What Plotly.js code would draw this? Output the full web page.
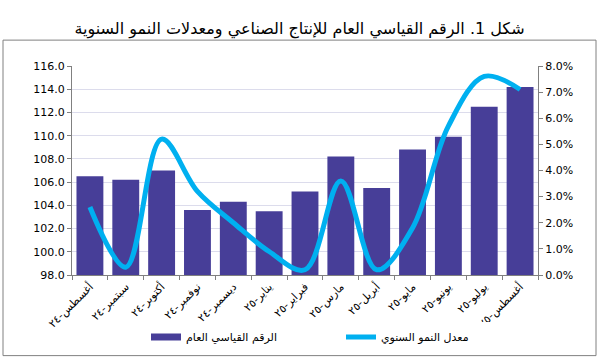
<!DOCTYPE html>
<html>
<head>
<meta charset="utf-8">
<script src="https://cdn.plot.ly/plotly-3.0.1.min.js"></script>
<style>html,body{margin:0;padding:0;background:#fff;}#chart{width:599px;height:362px;}</style>
</head>
<body>
<div id="chart"></div>
<script>
const categories = ["أغسطس-٢٤","سبتمبر-٢٤","أكتوبر-٢٤","نوفمبر-٢٤","ديسمبر-٢٤","يناير-٢٥","فبراير-٢٥","مارس-٢٥","أبريل-٢٥","مايو-٢٥","يونيو-٢٥","يوليو-٢٥","أغسطس-٢٥"];
const indexValues = [106.5, 106.2, 107.0, 103.6, 104.3, 103.5, 105.2, 108.2, 105.5, 108.8, 109.9, 112.5, 114.2];
const growthValues = [0.026, 0.003, 0.052, 0.032, 0.020, 0.009, 0.002, 0.036, 0.002, 0.018, 0.057, 0.076, 0.071];
const seriesNames = ["الرقم القياسي العام", "معدل النمو السنوي"];
const titleText = "شكل 1. الرقم القياسي العام للإنتاج الصناعي ومعدلات النمو السنوية";

const font = "DejaVu Sans, Noto Sans, sans-serif";
const barColor = "#473e98";
const lineColor = "#00b0f0";
const data = [
  {type:"bar", x:categories, y:indexValues, name:seriesNames[0], marker:{color:barColor}, yaxis:"y", hoverinfo:"none", showlegend:false},
  {type:"scatter", mode:"lines", x:[categories[0]], y:[null], name:seriesNames[0], yaxis:"y", line:{color:barColor, width:7}, hoverinfo:"none", showlegend:true},
  {type:"scatter", mode:"lines", x:categories, y:growthValues, name:seriesNames[1], yaxis:"y2",
   line:{color:lineColor, width:5, shape:"spline", smoothing:1}, hoverinfo:"none"}
];
const layout = {
  width:599, height:362,
  margin:{l:72, r:61, t:66, b:86},
  paper_bgcolor:"#fff", plot_bgcolor:"#fff",
  font:{family:font, size:11, color:"#000"},
  title:{text:titleText, font:{family:font, size:16, color:"#000"}, x:0.5, xanchor:"center", y:1-28/362, yanchor:"middle", yref:"container"},
  bargap:0.25,
  showlegend:true,
  legend:{orientation:"h", x:(146-72)/466, xanchor:"left", y:-0.29, yanchor:"middle", font:{family:font, size:11}, traceorder:"normal", entrywidth:150, entrywidthmode:"pixels"},
  xaxis:{type:"category", tickangle:-45, showline:true, linecolor:"#808080", linewidth:1, ticks:"outside", tickson:"boundaries", ticklen:4, tickcolor:"#808080", showgrid:false, tickfont:{family:font, size:11}},
  yaxis:{range:[98,116], dtick:2, tickformat:".1f", showline:true, linecolor:"#808080", ticks:"outside", ticklen:4, tickcolor:"#808080", gridcolor:"#dcdcec", gridwidth:1, zeroline:false, tickfont:{family:font, size:11}},
  yaxis2:{range:[0,0.08], dtick:0.01, tickformat:".1%", overlaying:"y", side:"right", showline:true, linecolor:"#808080", ticks:"outside", ticklen:4, tickcolor:"#808080", showgrid:false, zeroline:false, tickfont:{family:font, size:11}},
  shapes:[{type:"rect", xref:"paper", yref:"paper", x0:(3-72)/466, x1:(596-72)/466, y0:(276-357)/210, y1:(276-40)/210, line:{color:"#808080", width:1}, fillcolor:"rgba(0,0,0,0)", layer:"below"}]
};
Plotly.newPlot("chart", data, layout, {displayModeBar:false, staticPlot:true});
</script>
</body>
</html>
